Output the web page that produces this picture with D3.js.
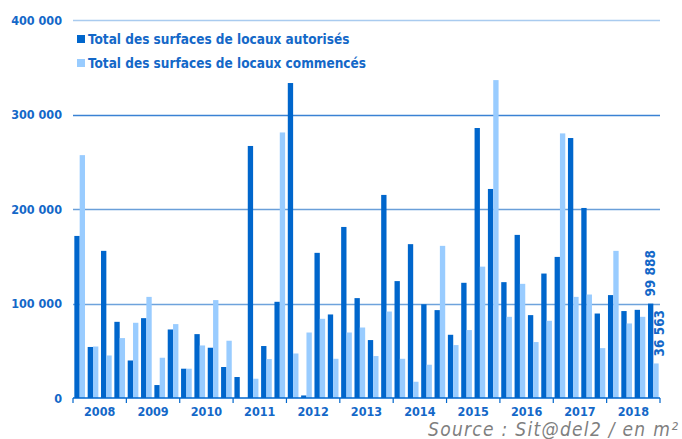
<!DOCTYPE html>
<html>
<head>
<meta charset="utf-8">
<script src="https://cdn.jsdelivr.net/npm/d3@7"></script>
<style>
  body { margin: 0; background: #fff; }
  svg text { font-family: "DejaVu Sans Condensed", "DejaVu Sans", sans-serif; }
</style>
</head>
<body>
<div id="chart"></div>
<script>
// years shown on the x axis, one group of 4 quarters each
const years = ['2008', '2009', '2010', '2011', '2012', '2013', '2014', '2015', '2016', '2017', '2018'];
const quarters = ['T1', 'T2', 'T3', 'T4'];

// Total des surfaces de locaux autorisés (m², par trimestre)
const autorises = [
    171500, 54000, 155700, 80600,
    39700, 84500, 13700, 72500,
    31000, 67600, 53200, 32800,
    22200, 266700, 55000, 101800,
    333300, 2700, 153600, 88400,
    181000, 105700, 61300, 214900,
    123700, 162800, 99200, 93000,
    66900, 121900, 285700, 221200,
    122600, 172600, 87700, 131700,
    149300, 275100, 201100, 89400,
    108900, 92000, 93300, 99888
];

// Total des surfaces de locaux commencés (m², par trimestre)
const commences = [
    257000, 54500, 45000, 63400,
    79600, 107000, 42600, 78200,
    31000, 55600, 103600, 60600,
    0, 20400, 41200, 281000,
    47100, 69300, 83800, 41500,
    69300, 74600, 44400, 91500,
    41500, 17200, 35200, 161000,
    56000, 71900, 139000, 336400,
    85900, 120800, 59200, 81700,
    280000, 107000, 109500, 52800,
    155700, 78900, 85900, 36563
];

const yTicks = [0, 100000, 200000, 300000, 400000];
const seriesNames = ['Total des surfaces de locaux autorisés', 'Total des surfaces de locaux commencés'];

const width = 682, height = 439;
const margin = { top: 20, right: 22, bottom: 41, left: 73 };
const dark = '#0066cc', light = '#99ccff', textBlue = '#1468c8';

const periods = [];
years.forEach(y => quarters.forEach(q => periods.push(y + q)));

const svg = d3.select('#chart').append('svg')
    .attr('width', width)
    .attr('height', height);

const x = d3.scaleBand()
    .domain(periods)
    .range([margin.left, width - margin.right])
    .paddingInner(0.2)
    .paddingOuter(0.1);

const xYear = d3.scaleBand()
    .domain(years)
    .range([margin.left, width - margin.right]);

const xSub = d3.scaleBand()
    .domain(['a', 'c'])
    .range([0, x.bandwidth()]);

const y = d3.scaleLinear()
    .domain([0, 400000])
    .range([height - margin.bottom, margin.top]);

const fmt = v => d3.format(',')(v).replace(/,/g, ' ');

// grid lines
const gridColor = { 100000: '#6ea3dc', 200000: '#6a9fd9', 300000: '#3a82d4', 400000: '#a9cbef' };
svg.append('g')
    .selectAll('line')
    .data(yTicks.filter(d => d > 0))
    .join('line')
    .attr('x1', margin.left)
    .attr('x2', width - margin.right)
    .attr('y1', d => Math.round(y(d)) + 0.5)
    .attr('y2', d => Math.round(y(d)) + 0.5)
    .attr('stroke', d => gridColor[d])
    .attr('stroke-width', 1.3);

// y labels
svg.append('g')
    .selectAll('text')
    .data(yTicks)
    .join('text')
    .attr('x', margin.left - 11)
    .attr('y', d => y(d) + 4.5)
    .attr('text-anchor', 'end')
    .attr('fill', textBlue)
    .attr('font-weight', 'bold')
    .attr('font-size', 12.5)
    .text(d => fmt(d));

// bars
const bars = svg.append('g');
bars.selectAll('rect.aut')
    .data(autorises)
    .join('rect')
    .attr('class', 'aut')
    .attr('x', (d, i) => x(periods[i]) + xSub('a'))
    .attr('width', xSub.bandwidth())
    .attr('y', d => y(d))
    .attr('height', d => y(0) - y(d))
    .attr('fill', dark);

bars.selectAll('rect.com')
    .data(commences)
    .join('rect')
    .attr('class', 'com')
    .attr('x', (d, i) => x(periods[i]) + xSub('c'))
    .attr('width', xSub.bandwidth())
    .attr('y', d => y(d))
    .attr('height', d => y(0) - y(d))
    .attr('fill', light);

// x axis
const xAxis = svg.append('g')
    .attr('transform', `translate(0,${y(0)})`);
xAxis.append('line')
    .attr('x1', margin.left)
    .attr('x2', width - margin.right)
    .attr('stroke', dark)
    .attr('stroke-width', 1.5);
xAxis.selectAll('line.tick')
    .data(years.map(d => xYear(d)).concat([width - margin.right]))
    .join('line')
    .attr('class', 'tick')
    .attr('x1', d => d)
    .attr('x2', d => d)
    .attr('y1', 0)
    .attr('y2', 5)
    .attr('stroke', dark)
    .attr('stroke-width', 1.2);
xAxis.selectAll('text')
    .data(years)
    .join('text')
    .attr('x', d => xYear(d) + xYear.bandwidth() / 2)
    .attr('y', 18)
    .attr('text-anchor', 'middle')
    .attr('fill', textBlue)
    .attr('font-weight', 'bold')
    .attr('font-size', 12.5)
    .text(d => d);

// value labels on the last quarter
const last = periods.length - 1;
const lastLabels = [
    { v: autorises[last], key: 'a' },
    { v: commences[last], key: 'c' }
];
svg.append('g')
    .selectAll('text')
    .data(lastLabels)
    .join('text')
    .attr('transform', d => {
        const tx = x(periods[last]) + xSub(d.key) + xSub.bandwidth() + (d.key === 'a' ? 1.5 : 5.5);
        const ty = y(d.v) - 7;
        return `translate(${tx},${ty}) rotate(-90)`;
    })
    .attr('fill', textBlue)
    .attr('font-weight', 'bold')
    .attr('font-size', 13.5)
    .text(d => fmt(d.v));

// legend
const legend = svg.append('g');
seriesNames.forEach((name, i) => {
    const g = legend.append('g').attr('transform', `translate(77,${35 + i * 24})`);
    g.append('rect')
        .attr('width', 8)
        .attr('height', 8)
        .attr('fill', i === 0 ? dark : light);
    g.append('text')
        .attr('x', 11)
        .attr('y', 9)
        .attr('fill', textBlue)
        .attr('font-weight', 'bold')
        .attr('font-size', 13.5)
        .text(name);
});

// source
svg.append('text')
    .attr('x', 428)
    .attr('y', 436)
    .attr('textLength', 250)
    .attr('lengthAdjust', 'spacing')
    .attr('fill', '#7f7f7f')
    .attr('font-family', '"DejaVu Sans", sans-serif')
    .attr('font-style', 'italic')
    .attr('font-size', 19)
    .text('Source : Sit@del2 / en m²');
</script>
</body>
</html>
